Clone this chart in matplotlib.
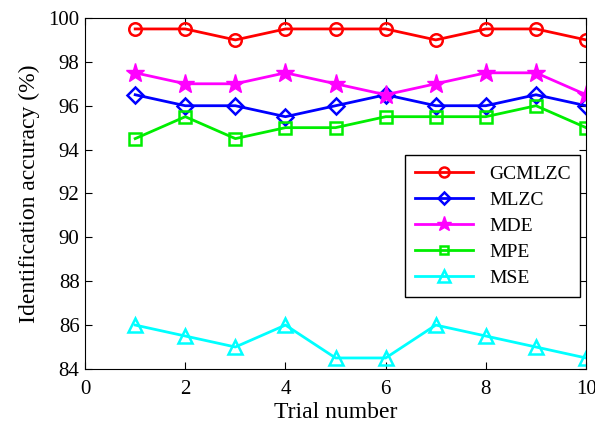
import matplotlib
matplotlib.use("Agg")
import matplotlib.pyplot as plt

trials = [1, 2, 3, 4, 5, 6, 7, 8, 9, 10]
gcmlzc = [99.5, 99.5, 99, 99.5, 99.5, 99.5, 99, 99.5, 99.5, 99]
mlzc = [96.5, 96, 96, 95.5, 96, 96.5, 96, 96, 96.5, 96]
mde = [97.5, 97, 97, 97.5, 97, 96.5, 97, 97.5, 97.5, 96.5]
mpe = [94.5, 95.5, 94.5, 95, 95, 95.5, 95.5, 95.5, 96, 95]
mse = [86, 85.5, 85, 86, 84.5, 84.5, 86, 85.5, 85, 84.5]

plt.rcParams['font.family'] = ['Liberation Serif', 'DejaVu Serif']

fig = plt.figure(figsize=(5.95, 4.28), dpi=100)
ax = fig.add_axes([0.143, 0.138, 0.842, 0.82])

ax.plot(trials, gcmlzc, color='red', marker='o', ms=9, mfc='none', mew=1.8, lw=2, label='GCMLZC')
ax.plot(trials, mlzc, color='blue', marker='D', ms=8, mfc='none', mew=1.8, lw=2, label='MLZC')
ax.plot(trials, mde, color='magenta', marker='*', ms=14, lw=2, label='MDE')
ax.plot(trials, mpe, color='#00ee00', marker='s', ms=8, mfc='none', mew=1.8, lw=2, label='MPE')
ax.plot(trials, mse, color='cyan', marker='^', ms=10, mfc='none', mew=1.8, lw=2, label='MSE')

ax.set_xlim(0, 10)
ax.set_ylim(84, 100)
ax.set_xticks(range(0, 11, 2))
ax.set_yticks(range(84, 101, 2))
ax.tick_params(direction='in', top=True, right=True, labelsize=15, length=5, pad=4)
ax.tick_params(axis='x', pad=8)
ax.set_xlabel('Trial number', fontsize=17, labelpad=2)
ax.set_ylabel('Identification accuracy (%)', fontsize=17, labelpad=6)

leg = ax.legend(loc='center', bbox_to_anchor=(0.814, 0.407), fontsize=14, fancybox=False,
                edgecolor='black', framealpha=1, handlelength=3, labelspacing=0.44,
                borderpad=0.5, markerscale=0.8)
leg.get_frame().set_linewidth(1)

fig.savefig('out.png', dpi=100)
